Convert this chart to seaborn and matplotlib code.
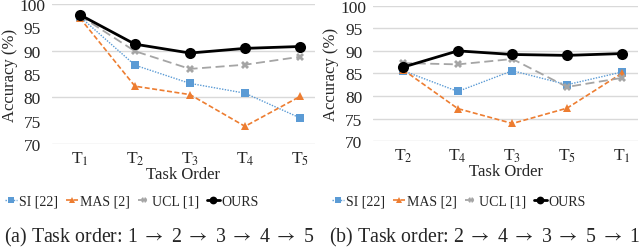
import matplotlib
matplotlib.use("Agg")
import matplotlib.pyplot as plt
import pandas as pd
import seaborn as sns

# task orders shown on the x axis
tasks_a = ["T$_1$", "T$_2$", "T$_3$", "T$_4$", "T$_5$"]
tasks_b = ["T$_2$", "T$_4$", "T$_3$", "T$_5$", "T$_1$"]

# accuracy (%), order 1->2->3->4->5
si_a = [97.3, 86.9, 83.0, 80.9, 75.6]
mas_a = [97.0, 82.4, 80.6, 73.8, 80.2]
ucl_a = [97.5, 89.9, 86.1, 87.0, 88.7]
ours_a = [97.7, 91.4, 89.5, 90.5, 90.9]

# accuracy (%), order 2->4->3->5->1
si_b = [85.6, 81.0, 85.6, 82.5, 85.3]
mas_b = [85.8, 77.2, 73.9, 77.3, 85.0]
ucl_b = [87.3, 87.0, 88.2, 82.0, 84.0]
ours_b = [86.4, 90.0, 89.2, 89.0, 89.4]

methods = ["SI [22]", "MAS [2]", "UCL [1]", "OURS"]
styles = {
    "SI [22]": dict(color="#5B9BD5", marker="s", linestyle=(0, (1, 1)), lw=1.0, ms=6),
    "MAS [2]": dict(color="#ED7D31", marker="^", linestyle=(0, (3, 1.5)), lw=1.2, ms=6),
    "UCL [1]": dict(color="#A5A5A5", marker="X", linestyle=(0, (5, 2.5)), lw=1.3, ms=6),
    "OURS": dict(color="black", marker="o", linestyle="-", lw=2.0, ms=8),
}

sns.set_theme(style="white")
plt.rcParams["font.family"] = ["Liberation Serif", "DejaVu Serif"]
plt.rcParams["mathtext.fontset"] = "stix"

fig = plt.figure(figsize=(6.4, 2.51), dpi=100)
ax_a = fig.add_axes([0.081, 0.422, 0.411, 0.558])
ax_b = fig.add_axes([0.583, 0.434, 0.414, 0.539])


def draw(ax, tasks, series, grid_step, xlim):
    for name, vals in zip(methods, series):
        st = styles[name]
        df = pd.DataFrame({"task": range(len(tasks)), "acc": vals})
        sns.lineplot(
            data=df, x="task", y="acc", ax=ax, color=st["color"],
            marker=st["marker"], markersize=st["ms"], linestyle=st["linestyle"],
            linewidth=st["lw"], markeredgewidth=0, label=name, legend=False,
        )
    ax.set_ylim(70, 100)
    ax.set_xlim(*xlim)
    ax.set_xticks(range(len(tasks)))
    ax.set_xticklabels(tasks)
    ax.set_yticks(range(70, 101, 5))
    for v in range(70, 101, grid_step):
        ax.axhline(v, color="#D9D9D9", lw=1.0, zorder=0)
    for s in ax.spines.values():
        s.set_visible(False)
    ax.tick_params(axis="both", labelsize=12.5, length=0, pad=4)
    ax.tick_params(axis="y", pad=14)
    ax.set_xlabel("Task Order", fontsize=12, labelpad=-1)
    ax.set_ylabel("Accuracy (%)", fontsize=12, labelpad=1)
    for lab in ax.get_yticklabels():
        lab.set_horizontalalignment("center")


draw(ax_a, tasks_a, [si_a, mas_a, ucl_a, ours_a], 10, (-0.51, 4.27))
draw(ax_b, tasks_b, [si_b, mas_b, ucl_b, ours_b], 5, (-0.55, 4.3))

handles, labels = ax_a.get_legend_handles_labels()
for cx in (0.206, 0.717):
    fig.legend(
        handles, labels, loc="center", bbox_to_anchor=(cx, 0.195), ncol=4,
        frameon=False, fontsize=10, handlelength=0.9, handletextpad=0.15,
        columnspacing=0.55, markerscale=0.7,
    )

fig.text(0.249, 0.055, r"(a) Task order: 1 $\rightarrow$ 2 $\rightarrow$ 3 $\rightarrow$ 4 $\rightarrow$ 5",
         ha="center", va="center", fontsize=14.3)
fig.text(0.757, 0.055, r"(b) Task order: 2 $\rightarrow$ 4 $\rightarrow$ 3 $\rightarrow$ 5 $\rightarrow$ 1",
         ha="center", va="center", fontsize=14.3)

fig.savefig("out.png", dpi=100)
